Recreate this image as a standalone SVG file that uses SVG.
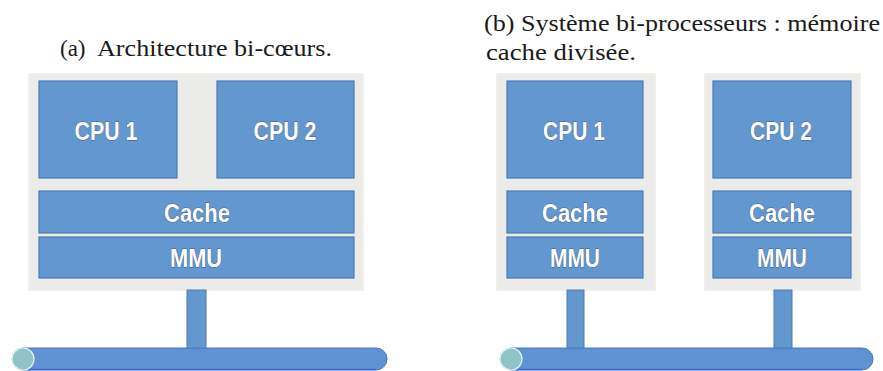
<svg xmlns="http://www.w3.org/2000/svg" width="883" height="371" viewBox="0 0 883 371">
  <style>
    .title { font-family: "Liberation Serif", "DejaVu Serif", serif; font-size: 23px; fill: #1a1a1a; }
    .panel { fill: #ebebea; stroke: #f3efe8; stroke-width: 2; }
    .blk { fill: #6397d0; stroke: #4a7bb8; stroke-width: 1.2; }
    .lbl { font-family: "Liberation Sans", Arial, sans-serif; font-size: 25px; font-weight: bold; fill: #ffffff; stroke: #3b5f8e; stroke-width: 0.9; paint-order: stroke fill; text-anchor: middle; }
    .stem { fill: #6397d0; stroke: #4a7bb8; stroke-width: 1; }
    .bus { fill: #5e92d2; stroke: #4a78c0; stroke-width: 1; }
    .bus-edge { fill: none; stroke: #3f6fe0; stroke-width: 1.5; }
    .cap { fill: #8fc4c6; stroke: #e8f2f2; stroke-width: 1.2; }
  </style>

  <!-- captions -->
  <text class="title" x="60" y="56">(a)</text>
  <text class="title" x="97" y="56" textLength="235" lengthAdjust="spacingAndGlyphs">Architecture bi-cœurs.</text>
  <text class="title" x="484" y="31" textLength="396" lengthAdjust="spacingAndGlyphs">(b) Système bi-processeurs : mémoire</text>
  <text class="title" x="486" y="60" textLength="150" lengthAdjust="spacingAndGlyphs">cache divisée.</text>

  <!-- (a) dual-core chip -->
  <g id="chip-a">
    <rect class="panel" x="29" y="74" width="334" height="216"/>
    <g id="cpu1-a">
      <rect class="blk" x="39" y="81" width="138" height="97"/>
      <text class="lbl" x="106" y="140" textLength="63" lengthAdjust="spacingAndGlyphs">CPU 1</text>
    </g>
    <g id="cpu2-a">
      <rect class="blk" x="217" y="81" width="137" height="97"/>
      <text class="lbl" x="285" y="140" textLength="63" lengthAdjust="spacingAndGlyphs">CPU 2</text>
    </g>
    <g id="cache-a">
      <rect class="blk" x="39" y="191" width="315" height="42"/>
      <text class="lbl" x="197" y="222" textLength="66" lengthAdjust="spacingAndGlyphs">Cache</text>
    </g>
    <g id="mmu-a">
      <rect class="blk" x="39" y="237" width="315" height="41"/>
      <text class="lbl" x="196" y="267" textLength="52" lengthAdjust="spacingAndGlyphs">MMU</text>
    </g>
  </g>

  <!-- (b) two separate processors -->
  <g id="proc1-b">
    <rect class="panel" x="497" y="74" width="158" height="216"/>
    <g id="cpu1-b">
      <rect class="blk" x="507" y="81" width="136" height="97"/>
      <text class="lbl" x="574" y="140" textLength="62" lengthAdjust="spacingAndGlyphs">CPU 1</text>
    </g>
    <g id="cache1-b">
      <rect class="blk" x="507" y="191" width="136" height="42"/>
      <text class="lbl" x="575" y="222" textLength="66" lengthAdjust="spacingAndGlyphs">Cache</text>
    </g>
    <g id="mmu1-b">
      <rect class="blk" x="507" y="237" width="136" height="41"/>
      <text class="lbl" x="575" y="267" textLength="50" lengthAdjust="spacingAndGlyphs">MMU</text>
    </g>
  </g>
  <g id="proc2-b">
    <rect class="panel" x="705" y="74" width="155" height="216"/>
    <g id="cpu2-b">
      <rect class="blk" x="713" y="81" width="138" height="97"/>
      <text class="lbl" x="781" y="140" textLength="62" lengthAdjust="spacingAndGlyphs">CPU 2</text>
    </g>
    <g id="cache2-b">
      <rect class="blk" x="713" y="191" width="138" height="42"/>
      <text class="lbl" x="782" y="222" textLength="66" lengthAdjust="spacingAndGlyphs">Cache</text>
    </g>
    <g id="mmu2-b">
      <rect class="blk" x="713" y="237" width="138" height="41"/>
      <text class="lbl" x="782" y="267" textLength="50" lengthAdjust="spacingAndGlyphs">MMU</text>
    </g>
  </g>

  <!-- system buses -->
  <g id="bus-a">
    <rect class="bus" x="12" y="348" width="375" height="22" rx="11"/>
    <line class="bus-edge" x1="23" y1="369.5" x2="376" y2="369.5"/>
    <circle class="cap" cx="23" cy="359" r="11"/>
  </g>
  <g id="bus-b">
    <rect class="bus" x="500" y="348" width="373" height="22" rx="11"/>
    <line class="bus-edge" x1="511" y1="369.5" x2="862" y2="369.5"/>
    <circle class="cap" cx="511" cy="359" r="11"/>
  </g>

  <!-- links from chips to buses -->
  <g id="connectors">
    <rect class="stem" x="187" y="290" width="19" height="58"/>
    <rect class="stem" x="567" y="290" width="17" height="58"/>
    <rect class="stem" x="774" y="290" width="18" height="58"/>
  </g>
</svg>
